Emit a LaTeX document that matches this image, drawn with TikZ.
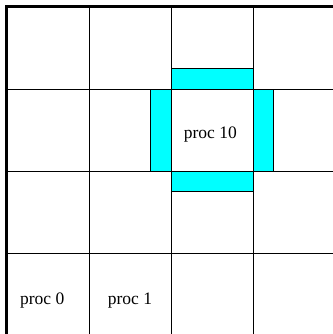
\documentclass[tikz,border=0pt]{standalone}
\usepackage{fontspec}
\setmainfont{Liberation Serif}
\definecolor{halocyan}{RGB}{0,255,255}
\tikzset{
    halo/.style={fill=halocyan,draw=black,line width=0.8pt},
    gridline/.style={line width=0.8pt},
    frame/.style={line width=3pt},
    proclabel/.style={inner sep=0pt,font=\fontsize{17.5}{21}\selectfont}
}
\begin{document}
\begin{tikzpicture}[x=82pt,y=-82pt]
    \useasboundingbox (-7/82,-7/82) rectangle (326/82,327/82);
    \coordinate (O) at (0,0);
    \coordinate (E) at (4,4);
    \filldraw[halo] (2,0.75) rectangle (3,1);
    \filldraw[halo] (2,2) rectangle (3,2.25);
    \filldraw[halo] (1.75,1) rectangle (2,2);
    \filldraw[halo] (3,1) rectangle (3.25,2);
    \foreach \i in {1,2,3}{
        \draw[gridline] (\i,0) -- (\i,4);
        \draw[gridline] (0,\i) -- (4,\i);
    }
    \draw[frame] (O) rectangle (E);
    \node[proclabel] (p10) at (2.48,1.55) {proc 10};
    \node[proclabel] (p0) at (0.43,3.58) {proc 0};
    \node[proclabel] (p1) at (1.5,3.58) {proc 1};
\end{tikzpicture}
\end{document}
